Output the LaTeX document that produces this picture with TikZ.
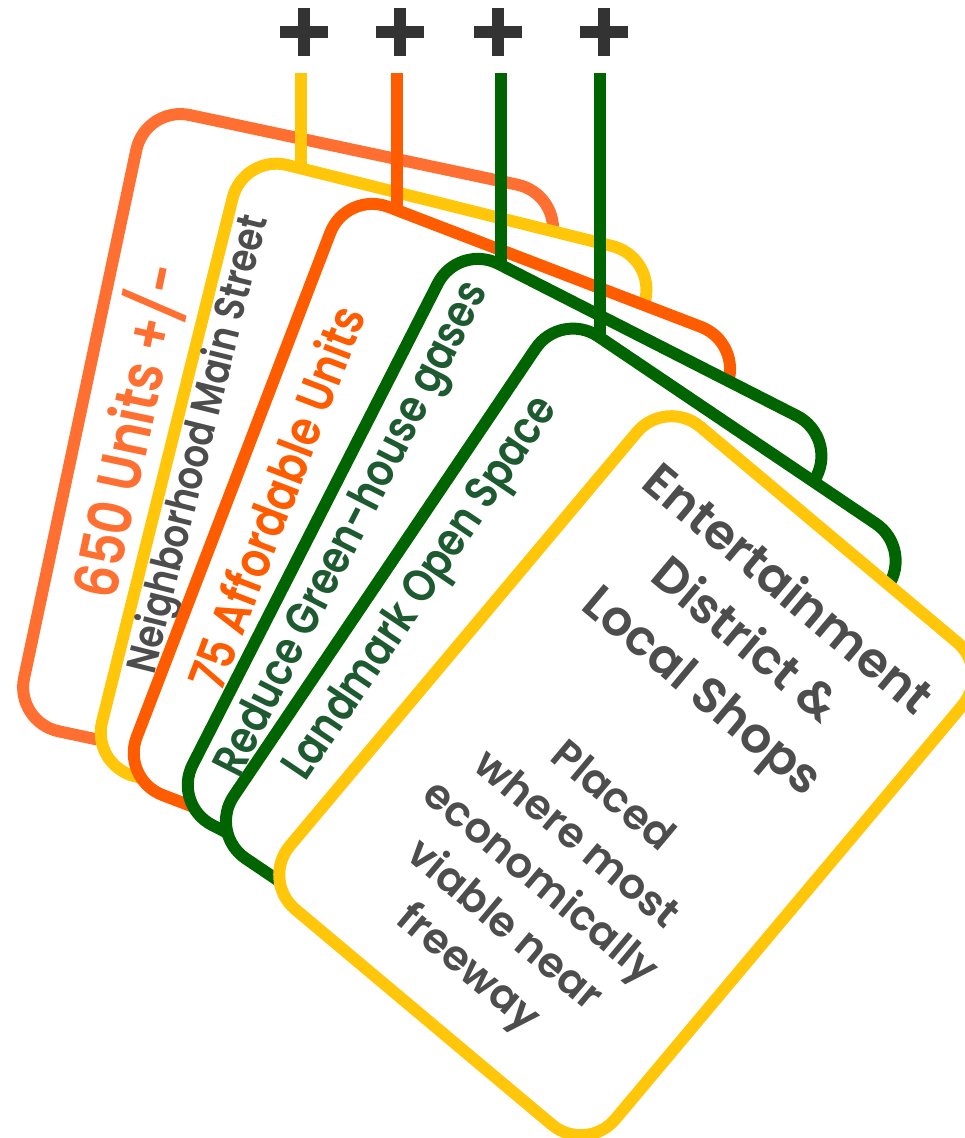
\documentclass[tikz,border=0pt]{standalone}
\usepackage{fontspec}
\usepackage{graphicx}
\setmainfont{Poppins}[UprightFont=* SemiBold]
\newfontfamily\sidefont{Poppins}[UprightFont=* SemiBold, FakeStretch=0.84]
\definecolor{cOrangeA}{HTML}{FF6F31}
\definecolor{cOrangeB}{HTML}{FF5C00}
\definecolor{cYellow}{HTML}{FFC60A}
\definecolor{cGreen}{HTML}{006400}
\definecolor{cGreenText}{HTML}{1E5A30}
\definecolor{cGrey}{HTML}{4D4D4D}
\definecolor{cPlus}{HTML}{333333}
\begin{document}
\begin{tikzpicture}[x=1pt,y=-1pt,
  card/.style={draw=#1, line width=12pt, fill=white, rounded corners=45pt,
    minimum width=425pt, minimum height=630pt, inner sep=0pt, outer sep=0pt, transform shape},
  sidetext/.style={text=#1, inner sep=0pt, rotate=90, transform shape, anchor=center,
    font=\sidefont\fontsize{40}{48}\selectfont},
  tabline/.style={draw=#1, line width=12pt},
  plusmark/.style={minimum size=48pt, inner sep=0pt, path picture={
    \fill[cPlus] ([xshift=-6pt]path picture bounding box.north) rectangle ([xshift=6pt]path picture bounding box.south);
    \fill[cPlus] ([yshift=-6pt]path picture bounding box.west) rectangle ([yshift=6pt]path picture bounding box.east);}}
]
\useasboundingbox (0,0) rectangle (964,1138);
\fill[white] (0,0) rectangle (964,1138);

% card 1
\begin{scope}[shift={(288.1,458.0)}, rotate=-12]
  \node[card=cOrangeA] (c1) at (0,0) {};
  \node[sidetext=cOrangeA] (t1) at (-162.5,6.5) {\resizebox{340pt}{!}{650 Units +/-}};
\end{scope}
% card 2
\begin{scope}[shift={(373.6,511.2)}, rotate=-14]
  \node[card=cYellow] (c2) at (0,0) {};
  \node[sidetext=cGrey] (t2) at (-184,-22.6) {\resizebox{470pt}{!}{Neighborhood Main Street}};
\end{scope}
% card 3
\begin{scope}[shift={(431.9,561.0)}, rotate=-21]
  \node[card=cOrangeB] (c3) at (0,0) {};
  \node[sidetext=cOrangeB] (t3) at (-168.7,-3.6) {\resizebox{406pt}{!}{75 Affordable Units}};
\end{scope}
% card 4
\begin{scope}[shift={(504.6,620.5)}, rotate=-27]
  \node[card=cGreen] (c4) at (0,0) {};
  \node[sidetext=cGreenText] (t4) at (-174.8,-12.1) {\resizebox{548pt}{!}{Reduce Green-house gases}};
\end{scope}
% card 5
\begin{scope}[shift={(560.8,691.1)}, rotate=-34]
  \node[card=cGreen] (c5) at (0,0) {};
  \node[sidetext=cGreenText] (t5) at (-171,-6.9) {\resizebox{451pt}{!}{Landmark Open Space}};
\end{scope}
% card 6
\begin{scope}[shift={(626.1,775.7)}, rotate=-40]
  \node[card=cYellow] (c6) at (0,0) {};
  \node[text=cGrey, align=center, inner sep=0pt, transform shape,
    font=\fontsize{49}{66}\selectfont] (t6a) at (4,-177) {Entertainment\\District \&\\Local Shops};
  \node[text=cGrey, align=center, inner sep=0pt, transform shape,
    font=\fontsize{42}{56}\selectfont] (t6b) at (3,139.5) {Placed\\where most\\economically\\viable near\\freeway};
\end{scope}

% tabs
\coordinate (l1a) at (301,73);  \coordinate (l1b) at (301,168.5);
\coordinate (l2a) at (397,73);  \coordinate (l2b) at (397,210.2);
\coordinate (l3a) at (501,73);  \coordinate (l3b) at (501,265.1);
\coordinate (l4a) at (600,73);  \coordinate (l4b) at (600,336);
\draw[tabline=cYellow] (l1a) -- (l1b);
\draw[tabline=cOrangeB] (l2a) -- (l2b);
\draw[tabline=cGreen] (l3a) -- (l3b);
\draw[tabline=cGreen] (l4a) -- (l4b);

% plus marks
\node[plusmark] (p1) at (304,32) {};
\node[plusmark] (p2) at (400,32) {};
\node[plusmark] (p3) at (498,32) {};
\node[plusmark] (p4) at (604,32) {};
\end{tikzpicture}
\end{document}
